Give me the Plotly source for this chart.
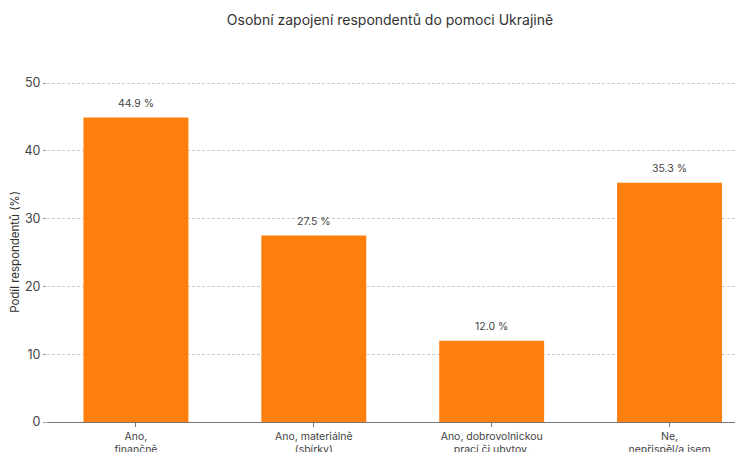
import plotly.graph_objects as go

categories = ["Ano,<br>finančně", "Ano, materiálně<br>(sbírky)", "Ano, dobrovolnickou<br>prací či ubytov.", "Ne,<br>nepřispěl/a jsem"]
values = [44.9, 27.5, 12.0, 35.3]
value_labels = [f"{v:.1f} %" for v in values]
y_ticks = [0, 10, 20, 30, 40, 50]

FONT = "Inter, Roboto, sans-serif"
xs = list(range(len(categories)))

fig = go.Figure()
fig.add_trace(go.Bar(x=xs, y=values, width=0.59, marker=dict(color="#ff7f0e", line=dict(width=0)), hoverinfo="skip"))

for x, v, t in zip(xs, values, value_labels):
    fig.add_annotation(x=x, y=v, text=t, showarrow=False, yanchor="bottom", yshift=6,
                       font=dict(family=FONT, size=10.5, color="#444"))

# Note: the page body has an 8px margin, so figure coords are shifted by 8px.
fig.update_layout(
    width=743, height=452,
    margin=dict(l=39, r=8, t=74, b=38),
    paper_bgcolor="white", plot_bgcolor="white",
    showlegend=False,
    font=dict(family=FONT, color="#444"),
    title=dict(text="Osobní zapojení respondentů do pomoci Ukrajině", x=382/743, xanchor="center",
               y=1 - 12/452, yanchor="middle", font=dict(family=FONT, size=14, color="#333")),
)
fig.update_xaxes(
    range=[-0.5, 3.413], tickmode="array", tickvals=xs, ticktext=categories,
    showgrid=False, zeroline=False, showline=True, linecolor="#777", linewidth=1,
    ticks="outside", ticklen=4, tickcolor="#777", tickfont=dict(family=FONT, size=10.5, color="#444"),
    automargin=False, fixedrange=True,
)
fig.update_yaxes(
    range=[0, 50.15], tickmode="array", tickvals=y_ticks,
    showgrid=True, gridcolor="#cccccc", griddash="3px,2px", gridwidth=1,
    zeroline=False, showline=False, ticks="outside", ticklen=3, tickcolor="#999",
    tickfont=dict(family=FONT, size=12.5, color="#444"),
    title=dict(text="Podíl respondentů (%)", font=dict(family=FONT, size=11.5, color="#333"), standoff=8),
    automargin=False,
)
fig.write_html("out.html")
